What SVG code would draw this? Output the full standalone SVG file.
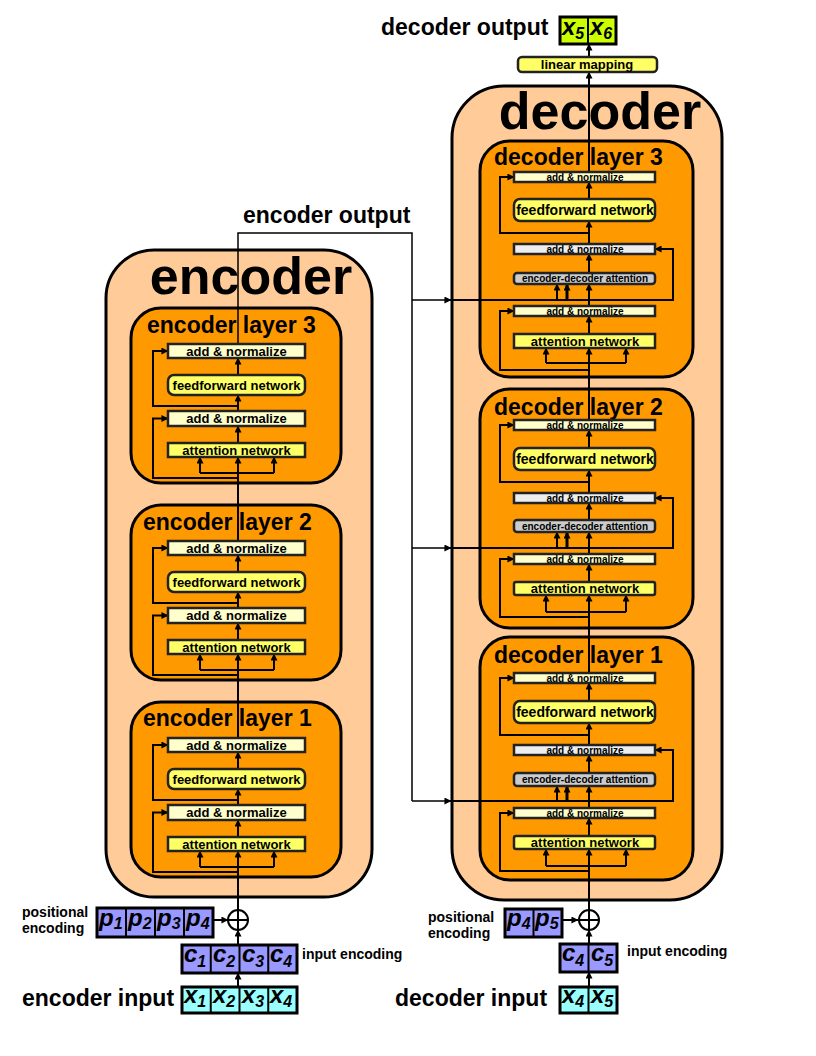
<svg xmlns="http://www.w3.org/2000/svg" width="816" height="1056" viewBox="0 0 816 1056">
<defs>
<marker id="ah" viewBox="0 0 8 8" refX="7.5" refY="4" markerWidth="7" markerHeight="7" markerUnits="userSpaceOnUse" orient="auto"><path d="M0,0 L8,4 L0,8 z" fill="#000"/></marker>
</defs>
<style>
text{font-family:"Liberation Sans",Arial,sans-serif;font-weight:bold;fill:#000}
.outer{fill:#ffcc99;stroke:#000;stroke-width:3}
.layer{fill:#ff9900;stroke:#000;stroke-width:3}
.an{fill:#ffffcc;stroke:#222;stroke-width:2.5}
.anm{fill:#eeeeee;stroke:#222;stroke-width:2.5}
.ff{fill:#ffff66;stroke:#222;stroke-width:2.5}
.ed{fill:#cccccc;stroke:#222;stroke-width:2.5}
.pc{fill:#9999ff;stroke:#000;stroke-width:3}
.xc{fill:#99ffff;stroke:#000;stroke-width:3}
.oc{fill:#ccff00;stroke:#000;stroke-width:3}
.div{stroke:#000;stroke-width:2}
.ln{fill:none;stroke:#000;stroke-width:2}
.thin{fill:none;stroke:#000;stroke-width:1.5}
.a{marker-end:url(#ah)}
.big{font-size:52px}
.lt{font-size:23px}
.lab{font-size:23px}
.sm{font-size:14px}
.bx{font-size:13px;text-anchor:middle}
.bxs{font-size:10px;text-anchor:middle}
.bxf{font-size:14px;text-anchor:middle}
.cell{font-size:24px;font-style:italic}
.sub{font-size:16px}
</style>

<g id="encoder">
<rect class="outer" x="106" y="250" width="266" height="647" rx="48"/>
<text class="big" x="251" y="294" text-anchor="middle">encoder</text>
</g>
<g id="decoder">
<rect class="outer" x="452" y="86" width="270" height="814" rx="52"/>
<text class="big" x="600" y="129" text-anchor="middle">decoder</text>
</g>

<g id="enc-layer-3"><rect class="layer" x="131" y="308" width="210" height="175" rx="30"/><text class="lt" x="147" y="333">encoder layer 3</text></g>
<g id="enc-layer-2"><rect class="layer" x="131" y="505" width="210" height="175" rx="30"/><text class="lt" x="143" y="530">encoder layer 2</text></g>
<g id="enc-layer-1"><rect class="layer" x="131" y="702" width="210" height="175" rx="30"/><text class="lt" x="143" y="726">encoder layer 1</text></g>

<g id="dec-layer-3"><rect class="layer" x="480" y="141" width="213" height="236" rx="30"/><text class="lt" x="494" y="165">decoder layer 3</text></g>
<g id="dec-layer-2"><rect class="layer" x="480" y="389" width="213" height="239" rx="30"/><text class="lt" x="494" y="415">decoder layer 2</text></g>
<g id="dec-layer-1"><rect class="layer" x="480" y="637" width="213" height="243" rx="30"/><text class="lt" x="494" y="663">decoder layer 1</text></g>

<g id="connectors">
<!-- encoder main line -->
<path class="ln a" d="M238,987 V973"/>
<path class="ln a" d="M238,945 V930"/>
<path class="ln a" d="M213,920 H228"/>
<path class="ln a" d="M238,910 V851"/>
<path class="ln a" d="M238,837 V820"/>
<path class="ln a" d="M238,805 V789"/>
<path class="ln a" d="M238,769 V752"/>
<path class="ln a" d="M238,738 V654"/>
<path class="ln a" d="M238,640 V623"/>
<path class="ln a" d="M238,608 V592"/>
<path class="ln a" d="M238,572 V555"/>
<path class="ln a" d="M238,541 V457"/>
<path class="ln a" d="M238,443 V426"/>
<path class="ln a" d="M238,411 V395"/>
<path class="ln a" d="M238,375 V358"/>
<path class="thin" d="M238,344 V233 H412 V801"/>
<!-- encoder layer 1 -->
<path class="ln" d="M200,867 H274"/><path class="ln a" d="M200,867 V851"/><path class="ln a" d="M274,867 V851"/>
<path class="ln a" d="M238,872 H153 V812.5 H168"/>
<path class="ln a" d="M238,800 H153 V745 H168"/>
<!-- encoder layer 2 -->
<path class="ln" d="M200,670 H274"/><path class="ln a" d="M200,670 V654"/><path class="ln a" d="M274,670 V654"/>
<path class="ln a" d="M238,675 H153 V615.5 H168"/>
<path class="ln a" d="M238,603 H153 V548 H168"/>
<!-- encoder layer 3 -->
<path class="ln" d="M200,473 H274"/><path class="ln a" d="M200,473 V457"/><path class="ln a" d="M274,473 V457"/>
<path class="ln a" d="M238,478 H153 V418.5 H168"/>
<path class="ln a" d="M238,406 H153 V351 H168"/>
<!-- encoder output to decoder -->
<path class="thin a" d="M412,300 H451"/>
<path class="thin a" d="M412,548 H451"/>
<path class="thin a" d="M412,801 H451"/>

<!-- decoder main line -->
<path class="ln a" d="M589,987 V972"/>
<path class="ln a" d="M589,944 V930"/>
<path class="ln a" d="M562,920 H578"/>
<path class="ln a" d="M589,910 V849"/>
<path class="ln a" d="M589,836 V818"/>
<path class="ln a" d="M589,808 V786"/>
<path class="ln a" d="M589,773 V755"/>
<path class="ln a" d="M589,745 V723"/>
<path class="ln a" d="M589,701 V683"/>
<path class="ln a" d="M589,673 V595"/>
<path class="ln a" d="M589,582 V564"/>
<path class="ln a" d="M589,554 V532"/>
<path class="ln a" d="M589,520 V503"/>
<path class="ln a" d="M589,493 V470"/>
<path class="ln a" d="M589,448 V430"/>
<path class="ln a" d="M589,420 V348"/>
<path class="ln a" d="M589,334 V316"/>
<path class="ln a" d="M589,306 V284"/>
<path class="ln a" d="M589,273 V254"/>
<path class="ln a" d="M589,244 V221"/>
<path class="ln a" d="M589,199 V182"/>
<path class="ln a" d="M589,172 V72"/>
<path class="ln a" d="M589,57 V44"/>
<!-- decoder layer 1 -->
<path class="ln" d="M546,866 H626"/><path class="ln a" d="M546,866 V849"/><path class="ln a" d="M626,866 V849"/>
<path class="ln a" d="M589,871 H500 V813 H514"/>
<path class="ln a" d="M589,735 H500 V678 H514"/>
<path class="ln a" d="M450,801 H673 V750 H655"/>
<path class="ln a" d="M557,801 V786"/><path class="ln a" d="M567,801 V786" style="stroke-width:3"/>
<!-- decoder layer 2 -->
<path class="ln" d="M546,612 H626"/><path class="ln a" d="M546,612 V595"/><path class="ln a" d="M626,612 V595"/>
<path class="ln a" d="M589,617 H500 V559 H514"/>
<path class="ln a" d="M589,482 H500 V425 H514"/>
<path class="ln a" d="M450,548 H673 V498 H655"/>
<path class="ln a" d="M557,548 V532"/><path class="ln a" d="M567,548 V532" style="stroke-width:3"/>
<!-- decoder layer 3 -->
<path class="ln" d="M546,363 H626"/><path class="ln a" d="M546,363 V348"/><path class="ln a" d="M626,363 V348"/>
<path class="ln a" d="M589,370 H500 V311 H514"/>
<path class="ln a" d="M589,233 H500 V177 H514"/>
<path class="ln a" d="M450,300 H673 V249 H655"/>
<path class="ln a" d="M557,300 V284"/><path class="ln a" d="M567,300 V284" style="stroke-width:3"/>
</g>

<!-- encoder layer boxes -->
<g id="enc3-an1"><rect class="an" x="168" y="344" width="137" height="14"/><text class="bx" x="236.5" y="355.5">add &amp; normalize</text></g>
<g id="enc3-ff"><rect class="ff" x="168" y="375" width="137" height="20" rx="6"/><text class="bx" x="236.5" y="389.5">feedforward network</text></g>
<g id="enc3-an2"><rect class="an" x="168" y="411" width="137" height="15"/><text class="bx" x="236.5" y="423">add &amp; normalize</text></g>
<g id="enc3-att"><rect class="ff" x="168" y="443" width="137" height="14"/><text class="bx" x="236.5" y="454.5">attention network</text></g>

<g id="enc2-an1"><rect class="an" x="168" y="541" width="137" height="14"/><text class="bx" x="236.5" y="552.5">add &amp; normalize</text></g>
<g id="enc2-ff"><rect class="ff" x="168" y="572" width="137" height="20" rx="6"/><text class="bx" x="236.5" y="586.5">feedforward network</text></g>
<g id="enc2-an2"><rect class="an" x="168" y="608" width="137" height="15"/><text class="bx" x="236.5" y="620">add &amp; normalize</text></g>
<g id="enc2-att"><rect class="ff" x="168" y="640" width="137" height="14"/><text class="bx" x="236.5" y="651.5">attention network</text></g>

<g id="enc1-an1"><rect class="an" x="168" y="738" width="137" height="14"/><text class="bx" x="236.5" y="749.5">add &amp; normalize</text></g>
<g id="enc1-ff"><rect class="ff" x="168" y="769" width="137" height="20" rx="6"/><text class="bx" x="236.5" y="783.5">feedforward network</text></g>
<g id="enc1-an2"><rect class="an" x="168" y="805" width="137" height="15"/><text class="bx" x="236.5" y="817">add &amp; normalize</text></g>
<g id="enc1-att"><rect class="ff" x="168" y="837" width="137" height="14"/><text class="bx" x="236.5" y="848.5">attention network</text></g>

<!-- decoder layer boxes -->
<g id="dec3-ant"><rect class="an" x="514" y="172" width="141" height="10"/><text class="bxs" x="585" y="180.5">add &amp; normalize</text></g>
<g id="dec3-ff"><rect class="ff" x="514" y="199" width="141" height="22" rx="6"/><text class="bxf" x="585" y="215">feedforward network</text></g>
<g id="dec3-anm"><rect class="anm" x="514" y="244" width="141" height="10"/><text class="bxs" x="585" y="252.5">add &amp; normalize</text></g>
<g id="dec3-ed"><rect class="ed" x="514" y="273" width="141" height="11" rx="3"/><text class="bxs" x="585" y="282">encoder-decoder attention</text></g>
<g id="dec3-anb"><rect class="an" x="514" y="306" width="141" height="10"/><text class="bxs" x="585" y="314.5">add &amp; normalize</text></g>
<g id="dec3-att"><rect class="ff" x="514" y="334" width="141" height="14"/><text class="bx" x="585" y="345.5">attention network</text></g>

<g id="dec2-ant"><rect class="an" x="514" y="420" width="141" height="10"/><text class="bxs" x="585" y="428.5">add &amp; normalize</text></g>
<g id="dec2-ff"><rect class="ff" x="514" y="448" width="141" height="22" rx="6"/><text class="bxf" x="585" y="464">feedforward network</text></g>
<g id="dec2-anm"><rect class="anm" x="514" y="493" width="141" height="10"/><text class="bxs" x="585" y="501.5">add &amp; normalize</text></g>
<g id="dec2-ed"><rect class="ed" x="514" y="520" width="141" height="12" rx="3"/><text class="bxs" x="585" y="529.5">encoder-decoder attention</text></g>
<g id="dec2-anb"><rect class="an" x="514" y="554" width="141" height="10"/><text class="bxs" x="585" y="562.5">add &amp; normalize</text></g>
<g id="dec2-att"><rect class="ff" x="514" y="582" width="141" height="13" rx="2"/><text class="bx" x="585" y="593">attention network</text></g>

<g id="dec1-ant"><rect class="an" x="514" y="673" width="141" height="10"/><text class="bxs" x="585" y="681.5">add &amp; normalize</text></g>
<g id="dec1-ff"><rect class="ff" x="514" y="701" width="141" height="22" rx="6"/><text class="bxf" x="585" y="717">feedforward network</text></g>
<g id="dec1-anm"><rect class="anm" x="514" y="745" width="141" height="10"/><text class="bxs" x="585" y="753.5">add &amp; normalize</text></g>
<g id="dec1-ed"><rect class="ed" x="514" y="773" width="141" height="13" rx="3"/><text class="bxs" x="585" y="783">encoder-decoder attention</text></g>
<g id="dec1-anb"><rect class="an" x="514" y="808" width="141" height="10"/><text class="bxs" x="585" y="816.5">add &amp; normalize</text></g>
<g id="dec1-att"><rect class="ff" x="514" y="836" width="141" height="13" rx="2"/><text class="bx" x="585" y="847">attention network</text></g>

<!-- top output -->
<g id="linear-mapping"><rect class="ff" x="518" y="57" width="139" height="15" rx="4"/><text class="bx" x="587" y="69">linear mapping</text></g>
<g id="decoder-output">
<text class="lab" x="381" y="35">decoder output</text>
<rect class="oc" x="560" y="17" width="56" height="27"/><line class="div" x1="588" y1="17" x2="588" y2="44"/>
<text class="cell" x="562" y="35">x<tspan class="sub" dy="4">5</tspan></text>
<text class="cell" x="590" y="35">x<tspan class="sub" dy="4">6</tspan></text>
</g>
<g id="encoder-output-label"><text class="lab" x="243" y="223">encoder output</text></g>

<!-- encoder inputs -->
<g id="enc-positional">
<text class="sm" x="22" y="917">positional</text><text class="sm" x="22" y="933">encoding</text>
<rect class="pc" x="97" y="908" width="116" height="29"/>
<line class="div" x1="126" y1="908" x2="126" y2="937"/><line class="div" x1="155" y1="908" x2="155" y2="937"/><line class="div" x1="184" y1="908" x2="184" y2="937"/>
<text class="cell" x="99" y="926">p<tspan class="sub" dy="3">1</tspan></text>
<text class="cell" x="128" y="926">p<tspan class="sub" dy="3">2</tspan></text>
<text class="cell" x="157" y="926">p<tspan class="sub" dy="3">3</tspan></text>
<text class="cell" x="186" y="926">p<tspan class="sub" dy="3">4</tspan></text>
</g>
<g id="enc-plus"><circle cx="238" cy="920" r="10" fill="none" stroke="#000" stroke-width="2"/><path class="ln" d="M228,920 H248 M238,910 V930"/></g>
<g id="enc-input-encoding">
<rect class="pc" x="182" y="945" width="115" height="28"/>
<line class="div" x1="210.75" y1="945" x2="210.75" y2="973"/><line class="div" x1="239.5" y1="945" x2="239.5" y2="973"/><line class="div" x1="268.25" y1="945" x2="268.25" y2="973"/>
<text class="cell" x="184" y="962">c<tspan class="sub" dy="5">1</tspan></text>
<text class="cell" x="213" y="962">c<tspan class="sub" dy="5">2</tspan></text>
<text class="cell" x="242" y="962">c<tspan class="sub" dy="5">3</tspan></text>
<text class="cell" x="270" y="962">c<tspan class="sub" dy="5">4</tspan></text>
<text class="sm" x="302" y="959">input encoding</text>
</g>
<g id="enc-input">
<text class="lab" x="22" y="1006">encoder input</text>
<rect class="xc" x="182" y="987" width="115" height="26"/>
<line class="div" x1="210.75" y1="987" x2="210.75" y2="1013"/><line class="div" x1="239.5" y1="987" x2="239.5" y2="1013"/><line class="div" x1="268.25" y1="987" x2="268.25" y2="1013"/>
<text class="cell" x="184" y="1003">x<tspan class="sub" dy="4">1</tspan></text>
<text class="cell" x="213" y="1003">x<tspan class="sub" dy="4">2</tspan></text>
<text class="cell" x="242" y="1003">x<tspan class="sub" dy="4">3</tspan></text>
<text class="cell" x="270" y="1003">x<tspan class="sub" dy="4">4</tspan></text>
</g>

<!-- decoder inputs -->
<g id="dec-positional">
<text class="sm" x="428" y="922">positional</text><text class="sm" x="428" y="938">encoding</text>
<rect class="pc" x="505" y="909" width="57" height="28"/>
<line class="div" x1="533.5" y1="909" x2="533.5" y2="937"/>
<text class="cell" x="507" y="926">p<tspan class="sub" dy="3">4</tspan></text>
<text class="cell" x="535" y="926">p<tspan class="sub" dy="3">5</tspan></text>
</g>
<g id="dec-plus"><circle cx="589" cy="920" r="10" fill="none" stroke="#000" stroke-width="2"/><path class="ln" d="M579,920 H599 M589,910 V930"/></g>
<g id="dec-input-encoding">
<rect class="pc" x="560" y="944" width="57" height="28"/>
<line class="div" x1="588.5" y1="944" x2="588.5" y2="972"/>
<text class="cell" x="562" y="961">c<tspan class="sub" dy="5">4</tspan></text>
<text class="cell" x="591" y="961">c<tspan class="sub" dy="5">5</tspan></text>
<text class="sm" x="627" y="956">input encoding</text>
</g>
<g id="dec-input">
<text class="lab" x="395" y="1006">decoder input</text>
<rect class="xc" x="560" y="987" width="57" height="26"/>
<line class="div" x1="588.5" y1="987" x2="588.5" y2="1013"/>
<text class="cell" x="562" y="1003">x<tspan class="sub" dy="4">4</tspan></text>
<text class="cell" x="591" y="1003">x<tspan class="sub" dy="4">5</tspan></text>
</g>
</svg>
